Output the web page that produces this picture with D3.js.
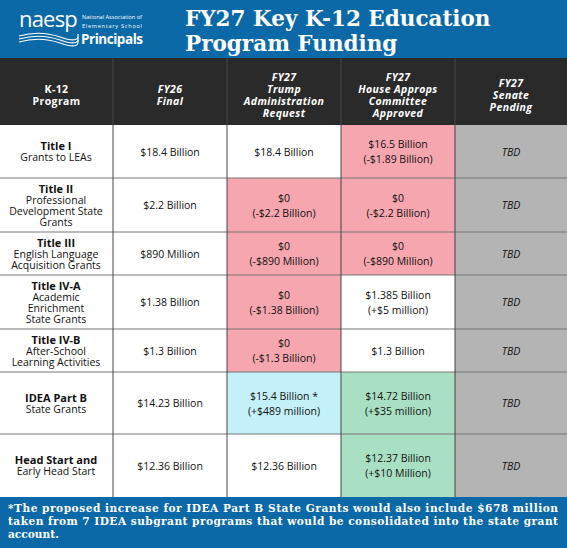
<!DOCTYPE html>
<html><head><meta charset="utf-8">
<script src="https://cdn.jsdelivr.net/npm/d3@7"></script>
<style>body{margin:0;background:#fff}svg{display:block}</style></head>
<body><script>
const title=["FY27 Key K-12 Education","Program Funding"];
const columns=[["K-12","Program"],["FY26","Final"],["FY27","Trump","Administration","Request"],["FY27","House Approps","Committee","Approved"],["FY27","Senate","Pending"]];
const programs=["Title I","Title II","Title III","Title IV-A","Title IV-B","IDEA Part B","Head Start and"];
const programSub=[["Grants to LEAs"],["Professional","Development State","Grants"],["English Language","Acquisition Grants"],["Academic","Enrichment","State Grants"],["After-School","Learning Activities"],["State Grants"],["Early Head Start"]];
const fy26=[["$18.4 Billion"],["$2.2 Billion"],["$890 Million"],["$1.38 Billion"],["$1.3 Billion"],["$14.23 Billion"],["$12.36 Billion"]];
const trump=[["$18.4 Billion"],["$0","(-$2.2 Billion)"],["$0","(-$890 Million)"],["$0","(-$1.38 Billion)"],["$0","(-$1.3 Billion)"],["$15.4 Billion *","(+$489 million)"],["$12.36 Billion"]];
const house=[["$16.5 Billion","(-$1.89 Billion)"],["$0","(-$2.2 Billion)"],["$0","(-$890 Million)"],["$1.385 Billion","(+$5 million)"],["$1.3 Billion"],["$14.72 Billion","(+$35 million)"],["$12.37 Billion","(+$10 Million)"]];
const senate=["TBD","TBD","TBD","TBD","TBD","TBD","TBD"];
const trumpStatus=["same","cut","cut","cut","cut","up","same"];
const houseStatus=["cut","cut","cut","same","same","up2","up2"];
const footnote=["*The proposed increase for IDEA Part B State Grants would also include $678 million","taken from 7 IDEA subgrant programs that would be consolidated into the state grant","account."];

const W=567,H=548;
const fill={same:"#ffffff",cut:"#f6a6ae",up:"#c4f0fa",up2:"#a9e0c3",tbd:"#b4b4b4"};
const rowEdges=[125,178,232,275,329,372,434,497];
const xs=[0,113,227,341,455,567];
const svg=d3.select("body").append("svg").attr("width",W).attr("height",H);
svg.append("rect").attr("width",W).attr("height",58).attr("fill","#0b69a8");
svg.append("rect").attr("y",58).attr("width",W).attr("height",67).attr("fill","#2a2a2a");
svg.append("rect").attr("y",497).attr("width",W).attr("height",51).attr("fill","#0b69a8");
// logo
const lg=svg.append("g").attr("fill","#fff").attr("font-family","Open Sans");
lg.append("text").attr("x",19).attr("y",27).attr("font-size",22).attr("letter-spacing",-0.8).text("naesp");
lg.append("text").attr("x",82).attr("y",19).attr("font-size",5.6).attr("textLength",60).text("National Association of");
lg.append("text").attr("x",82).attr("y",28).attr("font-size",5.6).attr("textLength",60).text("Elementary School");
lg.append("text").attr("x",81).attr("y",44).attr("font-size",13.5).attr("font-weight",700).attr("textLength",62).text("Principals");
[0,1,2].forEach(i=>lg.append("path").attr("d",`M${19} ${36+i*3} Q40 ${30+i*3} 60 ${37+i*3} T78 ${34+i*3}`).attr("stroke","#fff").attr("stroke-width",1.2).attr("fill","none"));
title.forEach((t,i)=>svg.append("text").attr("x",185).attr("y",26+i*25).attr("fill","#fff").attr("font-family","DejaVu Serif").attr("font-weight",700).attr("font-size",21.5).text(t));
// header
columns.forEach((c,j)=>{
 const cx=(xs[j]+xs[j+1])/2, lh=12, y0=95-(c.length-1)*lh/2;
 c.forEach((t,k)=>svg.append("text").attr("x",cx).attr("y",y0+k*lh+4).attr("text-anchor","middle").attr("fill","#fff").attr("font-family","Open Sans").attr("font-weight",700).attr("font-style",j>0?"italic":"normal").attr("font-size",10.5).attr("letter-spacing",0.4).text(t));
});
function cellText(cx,cy,lines,opts={}){
 const lh=opts.lh||15;const y0=cy-(lines.length-1)*lh/2;
 lines.forEach((t,k)=>svg.append("text").attr("x",cx).attr("y",y0+k*lh+4).attr("text-anchor","middle").attr("fill","#111").attr("font-family","Open Sans").attr("font-size",(opts.bold&&k==0)?11:10.5).attr("font-weight",(opts.bold&&k==0)?700:400).attr("font-style",opts.italic?"italic":"normal").text(t));
}
programs.forEach((p,i)=>{
 const y0=rowEdges[i],y1=rowEdges[i+1],cy=(y0+y1)/2;
 const fills=["#fff","#fff",fill[trumpStatus[i]],fill[houseStatus[i]],fill.tbd];
 fills.forEach((f,j)=>svg.append("rect").attr("x",xs[j]).attr("y",y0).attr("width",xs[j+1]-xs[j]).attr("height",y1-y0).attr("fill",f));
 cellText(xs[0]+56,cy,[p,...programSub[i]],{bold:true,lh:11});
 cellText(170,cy,fy26[i]);cellText(284,cy,trump[i]);cellText(398,cy,house[i]);
 cellText(511,cy,[senate[i]],{italic:true});
});
rowEdges.slice(1,-1).forEach(y=>svg.append("line").attr("x1",0).attr("x2",W).attr("y1",y).attr("y2",y).attr("stroke","#777").attr("stroke-width",1));
xs.slice(1,-1).forEach(x=>svg.append("line").attr("x1",x).attr("x2",x).attr("y1",58).attr("y2",497).attr("stroke","#444").attr("stroke-width",1));
footnote.forEach((t,i)=>svg.append("text").attr("x",8).attr("y",512+i*13).attr("fill","#fff").attr("font-family","DejaVu Serif").attr("font-weight",700).attr("font-size",10.6).attr("textLength",i<2?550:null).text(t));
</script></body></html>
